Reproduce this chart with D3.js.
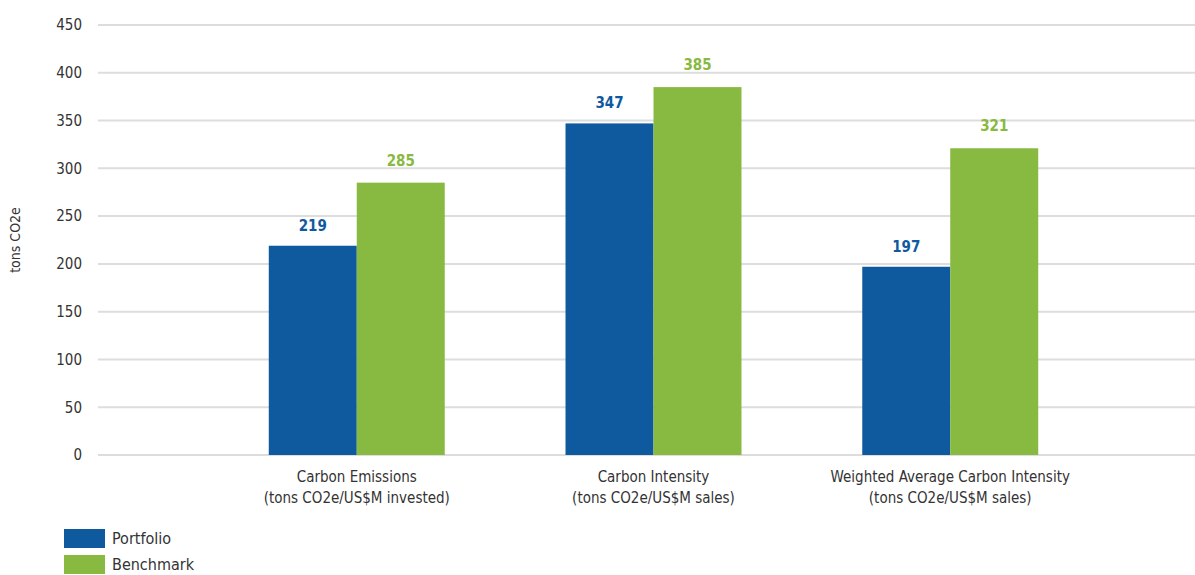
<!DOCTYPE html>
<html><head><meta charset="utf-8">
<script src="https://cdn.jsdelivr.net/npm/d3@7"></script>
<style>
body{margin:0;background:#fff;}
text{font-family:"Liberation Sans Narrow","DejaVu Sans Condensed","Roboto Condensed",sans-serif;}
</style></head>
<body><svg id="c" width="1195" height="575"></svg>
<script>
const categories = [
  ["Carbon Emissions","(tons CO2e/US$M invested)"],
  ["Carbon Intensity","(tons CO2e/US$M sales)"],
  ["Weighted Average Carbon Intensity","(tons CO2e/US$M sales)"]
];
const seriesNames = ["Portfolio","Benchmark"];
const portfolio = [219, 347, 197];
const benchmark = [285, 385, 321];
const yTicks = [0,50,100,150,200,250,300,350,400,450];
const colors = ["#0f5a9e","#88b940"];

const svg = d3.select("#c");
const y = d3.scaleLinear().domain([0,450]).range([455,25]);
const x0 = d3.scaleBand().domain(d3.range(categories.length)).range([148,1159]).paddingInner(0.407).paddingOuter(0.407);
const x1 = d3.scaleBand().domain([0,1]).range([0,x0.bandwidth()]);

const yAxis = d3.axisLeft(y).tickValues(yTicks).tickSize(0).tickPadding(0);
const gy = svg.append("g").attr("transform","translate(82,0)").call(yAxis);
gy.select(".domain").remove();
gy.selectAll("text").attr("font-size",15).attr("fill","#333").attr("x",0);
svg.append("g").selectAll("line").data(yTicks).join("line")
  .attr("x1",98).attr("x2",1195).attr("y1",d=>y(d)).attr("y2",d=>y(d))
  .attr("stroke","#dddddd").attr("stroke-width",2);

const data = categories.map((c,i)=>[portfolio[i],benchmark[i]]);
const g = svg.append("g").selectAll("g").data(data).join("g")
  .attr("transform",(d,i)=>`translate(${x0(i)},0)`);
g.selectAll("rect").data(d=>d).join("rect")
  .attr("x",(d,j)=>x1(j)).attr("width",x1.bandwidth())
  .attr("y",d=>y(d)).attr("height",d=>y(0)-y(d))
  .attr("fill",(d,j)=>colors[j]);
g.selectAll("text").data(d=>d).join("text")
  .attr("x",(d,j)=>x1(j)+x1.bandwidth()/2).attr("y",(d,j)=>y(d)-(j?17:15))
  .attr("text-anchor","middle").attr("font-size",15).attr("font-weight","bold")
  .attr("fill",(d,j)=>colors[j]).text(d=>d);

const xAxis = d3.axisBottom(x0).tickSize(0).tickFormat("");
const gx = svg.append("g").attr("transform",`translate(0,${y(0)})`).call(xAxis);
gx.select(".domain").remove();
svg.append("g").selectAll("text").data(categories).join("text")
  .attr("x",(d,i)=>x0(i)+x0.bandwidth()/2).attr("y",482)
  .attr("text-anchor","middle").attr("font-size",15).attr("fill","#333")
  .each(function(d){
    const t=d3.select(this);
    t.append("tspan").attr("x",t.attr("x")).attr("dy",0).text(d[0]);
    t.append("tspan").attr("x",t.attr("x")).attr("dy",21).text(d[1]);
  });

svg.append("text").attr("transform","translate(20,240) rotate(-90)")
  .attr("text-anchor","middle").attr("font-size",14).attr("fill","#333").text("tons CO2e");

const lg = svg.append("g").selectAll("g").data(seriesNames).join("g")
  .attr("transform",(d,i)=>`translate(64,${529+i*26})`);
lg.append("rect").attr("width",41).attr("height",19).attr("fill",(d,i)=>colors[i]);
lg.append("text").attr("x",48).attr("y",15).attr("font-size",16).attr("fill","#333").text(d=>d);
</script></body></html>
